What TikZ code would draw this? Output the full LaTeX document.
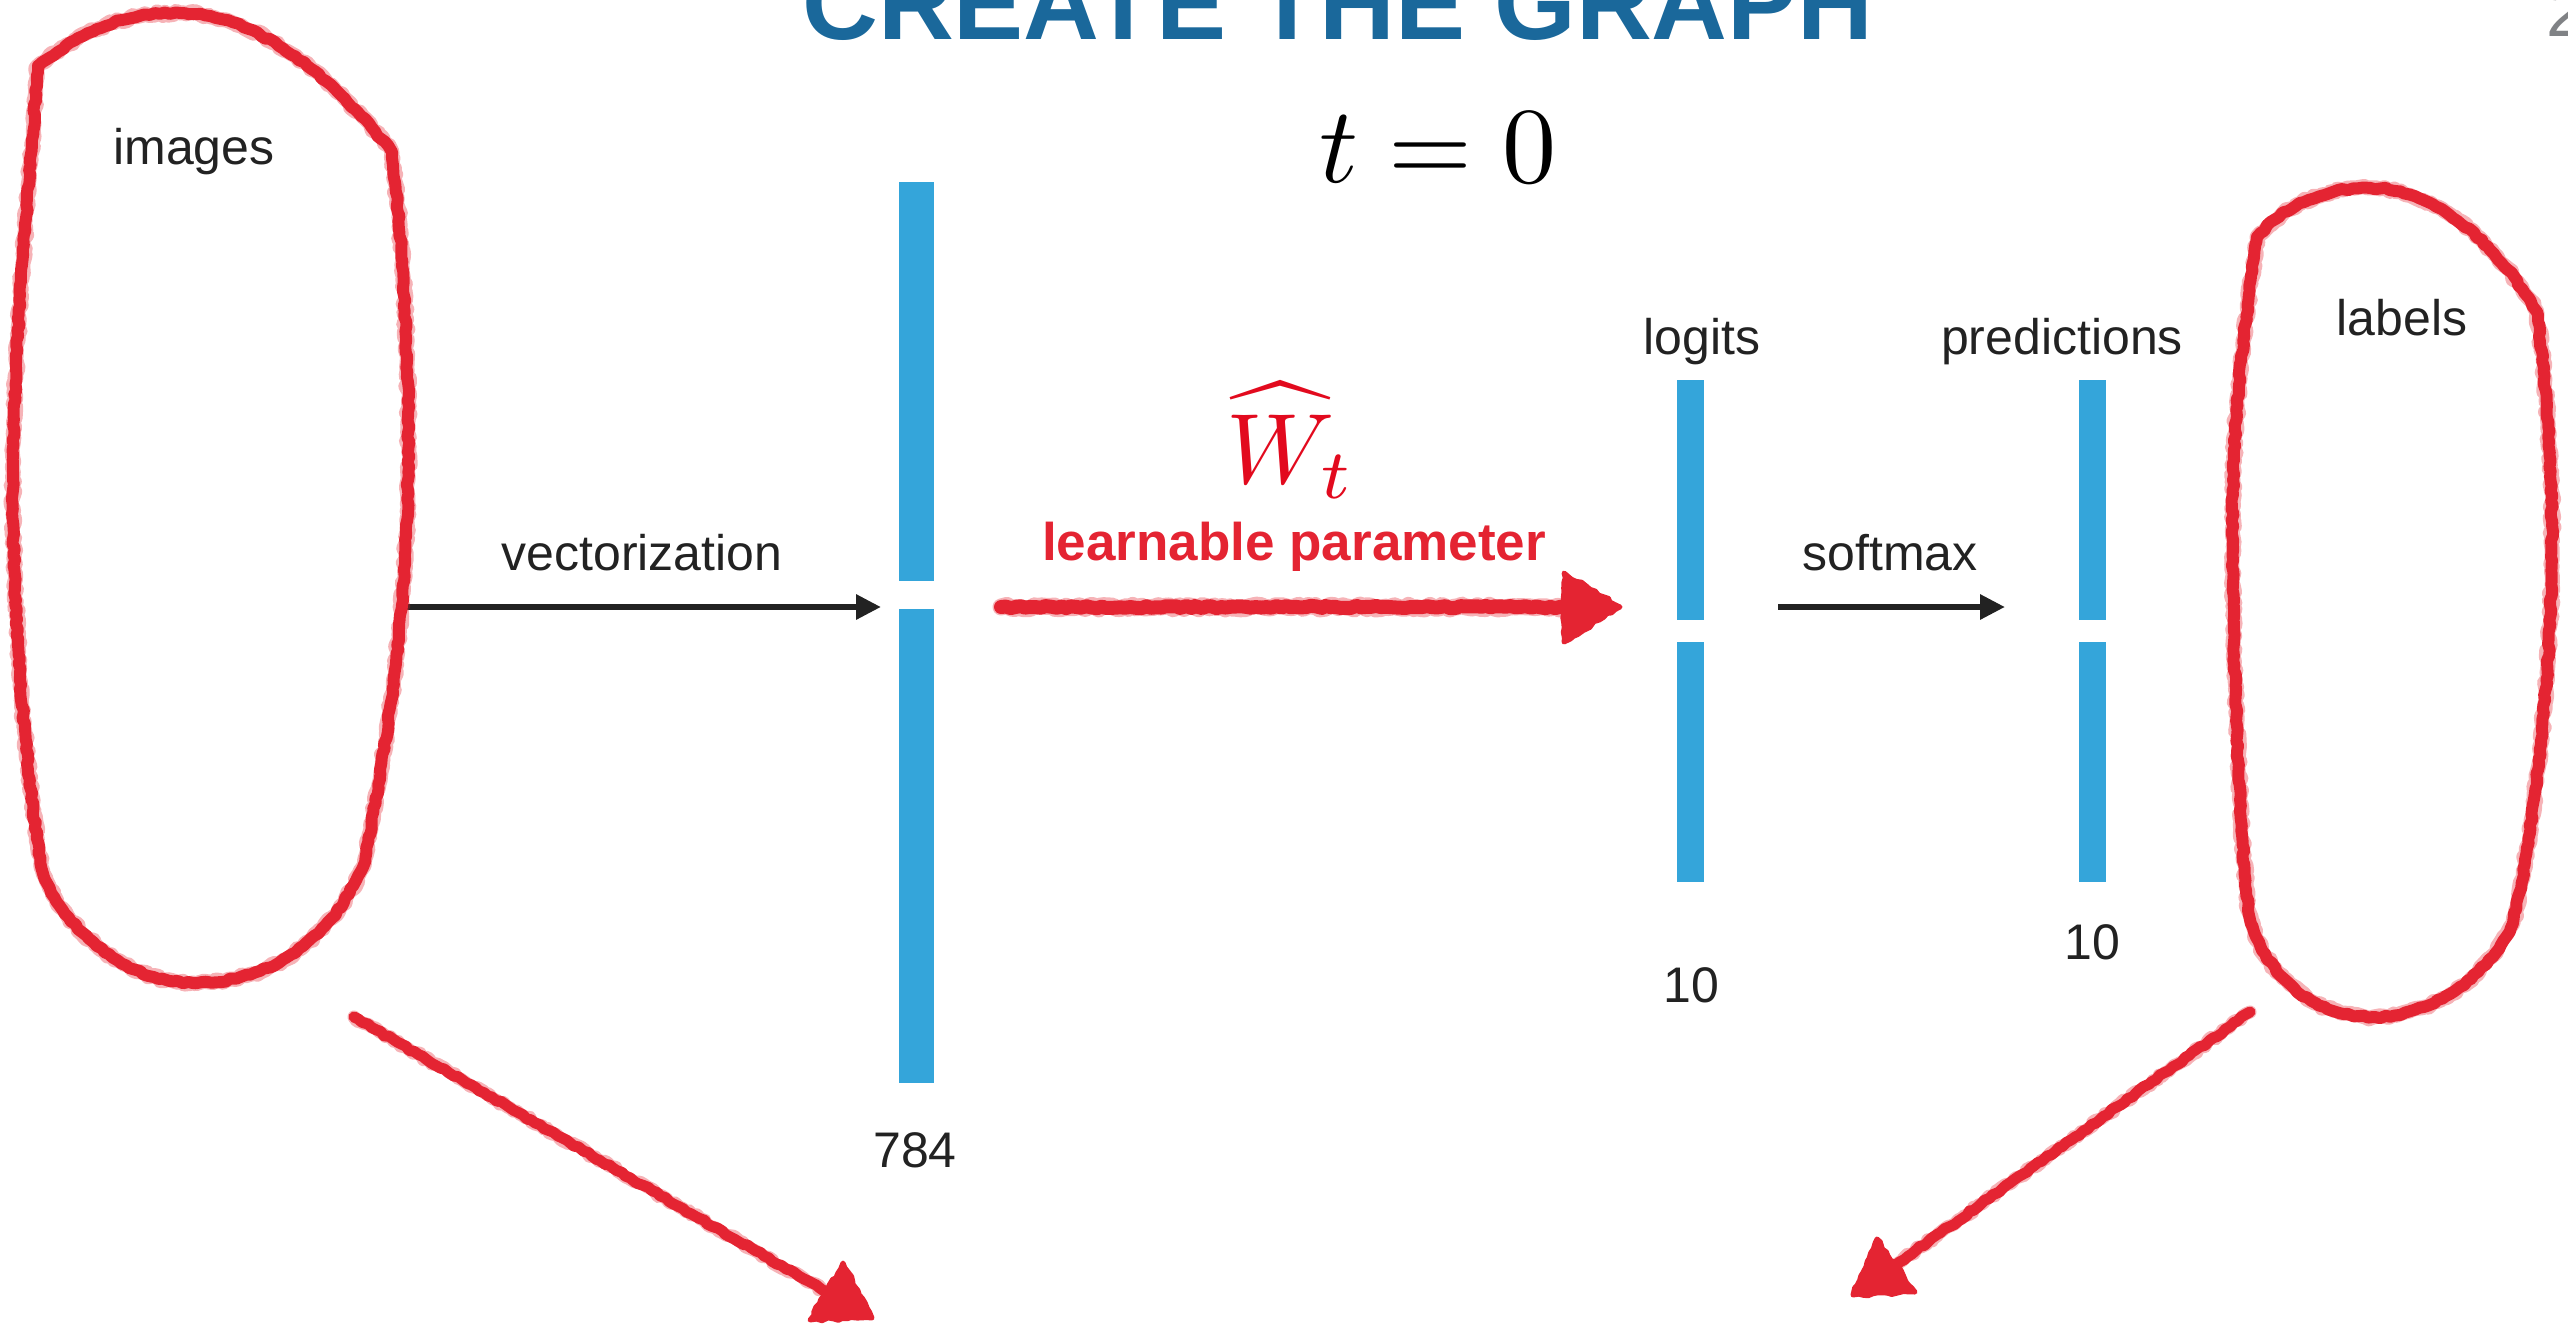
\documentclass[tikz,border=0pt]{standalone}
\usepackage{graphicx}
\usepackage{fontspec}
\setmainfont{Liberation Sans}
\usetikzlibrary{arrows.meta,decorations.pathmorphing}
\definecolor{barblue}{RGB}{52,165,218}
\definecolor{crayon}{RGB}{228,36,50}
\definecolor{titleblue}{RGB}{26,104,155}
\definecolor{txt}{RGB}{34,34,34}
\definecolor{wred}{RGB}{226,10,30}
\definecolor{pagegray}{RGB}{128,130,133}
\begin{document}
\begin{tikzpicture}[x=1pt,y=-1pt,
  lbl/.style={font=\fontsize{50}{60}\selectfont, text=txt, inner sep=0pt, anchor=base},
  bar/.style={fill=barblue, draw=none, inner sep=0pt, outer sep=0pt, anchor=north west},
  blackarrow/.style={draw=txt, line width=6pt, -{Triangle[length=25pt,width=24pt]}},
  crayonline/.style={draw=crayon, line width=12pt, line join=round, line cap=round,
     decorate, decoration={random steps, segment length=5pt, amplitude=1.2pt}},
  crayonfuzz/.style={draw=crayon, opacity=0.35, line width=15pt, line join=round, line cap=round,
     decorate, decoration={random steps, segment length=4pt, amplitude=2pt}},
  crayonhead/.style={fill=crayon, draw=crayon, line width=5pt, line join=round,
     decorate, decoration={random steps, segment length=5pt, amplitude=1.5pt}}
]
\pgfmathsetseed{7}
\useasboundingbox (0,0) rectangle (2568,1325);

% title and page number
\node[font=\fontsize{105}{110}\selectfont\bfseries, text=titleblue, anchor=base, inner sep=0pt] (title) at (1338,39) {CREATE THE GRAPH};
\node[font=\fontsize{70}{80}\selectfont, text=pagegray, anchor=base west, inner sep=0pt] (page) at (2546,36) {2};

% math
\node[text=black, anchor=base, inner sep=0pt] (t0) at (1438,182) {\scalebox{10.8}{$t=0$}};
\node[text=wred, anchor=base west, inner sep=0pt] (W) at (1226,483) {\scalebox{10}{$\widehat{W}_t$}};
\node[font=\fontsize{53}{60}\selectfont\bfseries, text=crayon, anchor=base, inner sep=0pt] (learn) at (1294,560) {learnable parameter};

% bars
\node[bar, minimum width=35pt, minimum height=399pt] (v1) at (899,182) {};
\node[bar, minimum width=35pt, minimum height=474pt] (v2) at (899,609) {};
\node[bar, minimum width=27pt, minimum height=240pt] (l1) at (1677,380) {};
\node[bar, minimum width=27pt, minimum height=240pt] (l2) at (1677,642) {};
\node[bar, minimum width=27pt, minimum height=240pt] (p1) at (2079,380) {};
\node[bar, minimum width=27pt, minimum height=240pt] (p2) at (2079,642) {};

% labels
\node[lbl] (images) at (194,164) {images};
\node[lbl] (labels) at (2402,335) {labels};
\node[lbl] (logits) at (1702,354) {logits};
\node[lbl] (predictions) at (2062,354) {predictions};
\node[lbl] (softmax) at (1890,570) {softmax};
\node[lbl] (vectorization) at (642,570) {vectorization};
\node[lbl] (n784) at (915,1167) {784};
\node[lbl] (n10a) at (1691,1002) {10};
\node[lbl] (n10b) at (2092,959) {10};

% black arrows
\coordinate (vs) at (407,607);
\coordinate (ve) at (881,607);
\coordinate (ss) at (1778,607);
\coordinate (se) at (2005,607);
\draw[blackarrow] (vs) -- (ve);
\draw[blackarrow] (ss) -- (se);

% crayon loops
\def\imgloop{(38,66) .. controls (90,25) and (130,13) .. (180,13)
  .. controls (270,13) and (350,100) .. (392,152)
  .. controls (404,250) and (410,380) .. (408,480)
  .. controls (406,620) and (385,760) .. (363,867)
  .. controls (320,960) and (250,983) .. (193,983)
  .. controls (120,983) and (60,920) .. (43,873)
  .. controls (25,780) and (12,600) .. (13,480)
  .. controls (14,330) and (30,180) .. (38,66) -- cycle}
\def\labloop{(2257,237) .. controls (2290,200) and (2330,188) .. (2370,188)
  .. controls (2440,188) and (2500,250) .. (2537,312)
  .. controls (2548,400) and (2553,480) .. (2552,560)
  .. controls (2550,700) and (2530,850) .. (2513,923)
  .. controls (2480,990) and (2420,1017) .. (2373,1017)
  .. controls (2310,1017) and (2260,970) .. (2248,910)
  .. controls (2238,800) and (2230,600) .. (2233,480)
  .. controls (2236,380) and (2250,290) .. (2257,237) -- cycle}
\draw[crayonfuzz] \imgloop;
\draw[crayonline] \imgloop;
\draw[crayonfuzz] \labloop;
\draw[crayonline] \labloop;

% red horizontal arrow
\coordinate (ws) at (1001,607);
\coordinate (wb) at (1566,607);
\coordinate (wt) at (1620,607);
\coordinate (wc1) at (1564,573);
\coordinate (wc2) at (1564,642);
\draw[crayonfuzz, line width=17pt] (ws) -- (wb);
\draw[crayonline, line width=14pt] (ws) -- (wb);
\filldraw[crayonhead] (wc1) -- (wt) -- (wc2) -- cycle;

% red diagonal arrows
\coordinate (ls) at (354,1017);
\coordinate (lb) at (826,1292);
\coordinate (lt) at (872,1318);
\coordinate (lc1) at (843,1263);
\coordinate (lc2) at (810,1320);
\draw[crayonfuzz, line width=13pt] (ls) -- (lb);
\draw[crayonline, line width=11pt] (ls) -- (lb);
\filldraw[crayonhead] (lc1) -- (lt) -- (lc2) -- cycle;

\coordinate (rs) at (2250,1012);
\coordinate (rb) at (1897,1264);
\coordinate (rt) at (1853,1295);
\coordinate (rc1) at (1877,1239);
\coordinate (rc2) at (1915,1292);
\draw[crayonfuzz, line width=13pt] (rs) -- (rb);
\draw[crayonline, line width=11pt] (rs) -- (rb);
\filldraw[crayonhead] (rc1) -- (rt) -- (rc2) -- cycle;
\end{tikzpicture}
\end{document}
